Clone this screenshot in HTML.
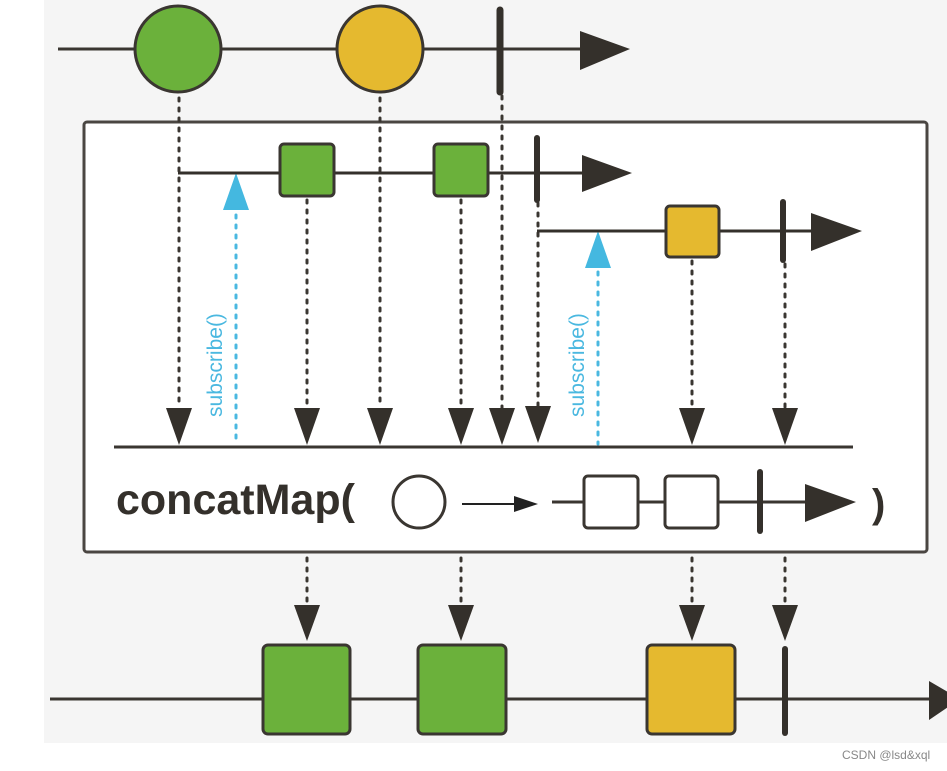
<!DOCTYPE html>
<html><head><meta charset="utf-8"><style>
html,body{margin:0;padding:0;background:#fff;}
svg{display:block;}
</style></head><body>
<svg width="947" height="771" viewBox="0 0 947 771" xmlns="http://www.w3.org/2000/svg" font-family="Liberation Sans, sans-serif">
<rect x="44" y="0" width="903" height="743" fill="#f5f5f5"/>
<g stroke="#3a3631" fill="none">
<!-- top line -->
<line x1="58" y1="49" x2="585" y2="49" stroke-width="3"/>
</g>
<polygon points="580,31 630,49 580,70" fill="#34302b"/>
<circle cx="178" cy="49" r="43" fill="#6bb13b" stroke="#3a3631" stroke-width="3"/>
<circle cx="380" cy="49" r="43" fill="#e5b92f" stroke="#3a3631" stroke-width="3"/>
<line x1="500" y1="10" x2="500" y2="92" stroke="#34302b" stroke-width="7" stroke-linecap="round"/>
<!-- box -->
<rect x="84" y="122" width="843" height="430" rx="3" fill="#fff" stroke="#4a4642" stroke-width="3"/>
<!-- dotted lines -->
<g stroke="#3a3631" stroke-width="3" stroke-dasharray="3,7" stroke-linecap="round">
<line x1="179" y1="98" x2="179" y2="408"/>
<line x1="307" y1="200" x2="307" y2="408"/>
<line x1="380" y1="98" x2="380" y2="408"/>
<line x1="461" y1="200" x2="461" y2="408"/>
<line x1="502" y1="96" x2="502" y2="408"/>
<line x1="538" y1="203" x2="538" y2="408"/>
<line x1="692" y1="261" x2="692" y2="408"/>
<line x1="785" y1="264" x2="785" y2="408"/>
<line x1="307" y1="558" x2="307" y2="605"/>
<line x1="461" y1="558" x2="461" y2="605"/>
<line x1="692" y1="558" x2="692" y2="605"/>
<line x1="785" y1="558" x2="785" y2="605"/>
</g>
<g fill="#34302b">
<polygon points="166,408 192,408 179,445"/>
<polygon points="294,408 320,408 307,445"/>
<polygon points="367,408 393,408 380,445"/>
<polygon points="448,408 474,408 461,445"/>
<polygon points="489,408 515,408 502,445"/>
<polygon points="525,406 551,406 538,443"/>
<polygon points="679,408 705,408 692,445"/>
<polygon points="772,408 798,408 785,445"/>
<polygon points="294,605 320,605 307,641"/>
<polygon points="448,605 474,605 461,641"/>
<polygon points="679,605 705,605 692,641"/>
<polygon points="772,605 798,605 785,641"/>
</g>
<!-- blue subscribe -->
<g stroke="#4ab8e0" stroke-width="3" stroke-dasharray="3,7" stroke-linecap="round">
<line x1="236" y1="215" x2="236" y2="444"/>
<line x1="598" y1="272" x2="598" y2="444"/>
</g>
<polygon points="223,210 249,210 236,173" fill="#44b8e0"/>
<polygon points="585,268 611,268 598,231" fill="#44b8e0"/>
<text transform="translate(222,365) rotate(-90)" text-anchor="middle" font-size="21" fill="#4ab8e0">subscribe()</text>
<text transform="translate(584,365) rotate(-90)" text-anchor="middle" font-size="21" fill="#4ab8e0">subscribe()</text>
<!-- inner line 1 -->
<line x1="178" y1="173" x2="590" y2="173" stroke="#34302b" stroke-width="3"/>
<polygon points="582,155 632,173 582,192" fill="#34302b"/>
<rect x="280" y="144" width="54" height="52" rx="4" fill="#6bb13b" stroke="#3a3631" stroke-width="3"/>
<rect x="434" y="144" width="54" height="52" rx="4" fill="#6bb13b" stroke="#3a3631" stroke-width="3"/>
<line x1="537" y1="138" x2="537" y2="200" stroke="#34302b" stroke-width="6" stroke-linecap="round"/>
<!-- inner line 2 -->
<line x1="537" y1="231" x2="820" y2="231" stroke="#34302b" stroke-width="3"/>
<polygon points="811,213 862,231 811,251" fill="#34302b"/>
<rect x="666" y="206" width="53" height="51" rx="4" fill="#e5b92f" stroke="#3a3631" stroke-width="3"/>
<line x1="783" y1="202" x2="783" y2="260" stroke="#34302b" stroke-width="6" stroke-linecap="round"/>
<!-- operator line -->
<line x1="114" y1="447" x2="853" y2="447" stroke="#3a3631" stroke-width="3"/>
<text x="116" y="514" font-size="43" font-weight="bold" fill="#34302b">concatMap(</text>
<circle cx="419" cy="502" r="26" fill="#fff" stroke="#3a3631" stroke-width="3"/>
<line x1="462" y1="504" x2="525" y2="504" stroke="#222" stroke-width="2"/>
<polygon points="514,496 538,504 514,512" fill="#222"/>
<line x1="552" y1="502" x2="815" y2="502" stroke="#3a3631" stroke-width="3"/>
<rect x="584" y="476" width="54" height="52" rx="4" fill="#fff" stroke="#3a3631" stroke-width="3"/>
<rect x="665" y="476" width="53" height="52" rx="4" fill="#fff" stroke="#3a3631" stroke-width="3"/>
<line x1="760" y1="472" x2="760" y2="531" stroke="#34302b" stroke-width="6" stroke-linecap="round"/>
<polygon points="805,484 856,502 805,522" fill="#34302b"/>
<text x="872" y="517" font-size="40" font-weight="bold" fill="#34302b">)</text>
<!-- bottom line -->
<line x1="50" y1="699" x2="935" y2="699" stroke="#3a3631" stroke-width="3"/>
<polygon points="929,681 960,699 929,720" fill="#34302b"/>
<rect x="263" y="645" width="87" height="89" rx="5" fill="#6bb13b" stroke="#3a3631" stroke-width="3"/>
<rect x="418" y="645" width="88" height="89" rx="5" fill="#6bb13b" stroke="#3a3631" stroke-width="3"/>
<rect x="647" y="645" width="88" height="89" rx="5" fill="#e5b92f" stroke="#3a3631" stroke-width="3"/>
<line x1="785" y1="649" x2="785" y2="733" stroke="#34302b" stroke-width="6" stroke-linecap="round"/>
<text x="842" y="759" font-size="12" fill="#888">CSDN @lsd&amp;xql</text>
</svg>
</body></html>
